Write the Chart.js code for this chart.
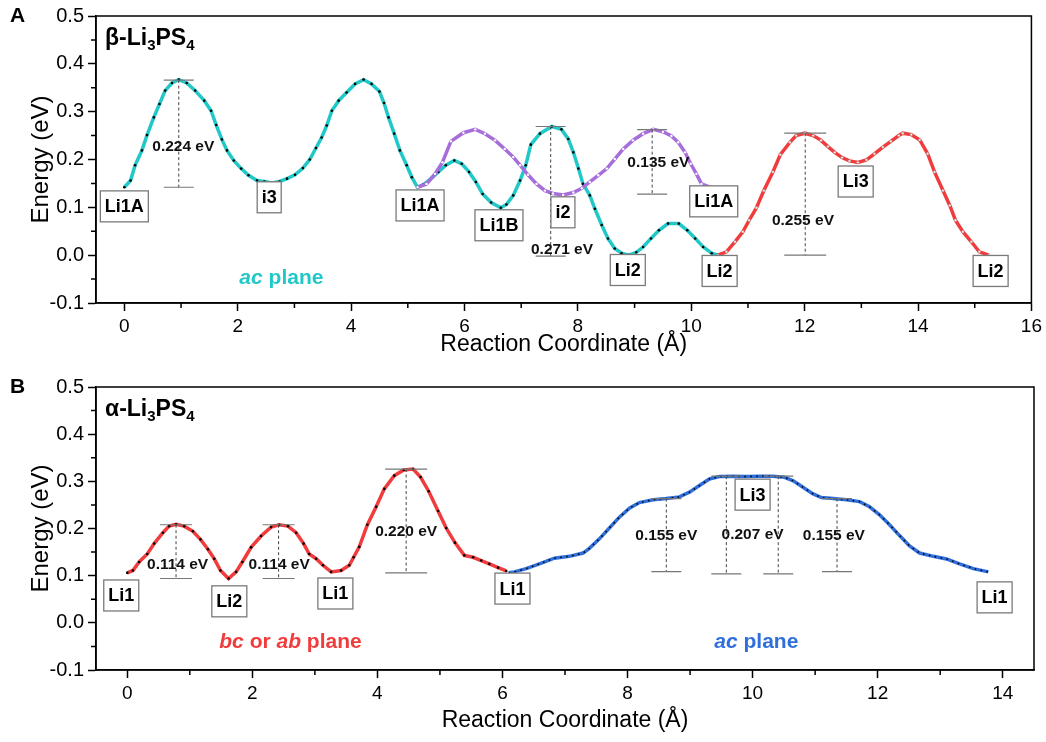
<!DOCTYPE html>
<html>
<head>
<meta charset="utf-8">
<script src="https://cdn.jsdelivr.net/npm/chart.js@4/dist/chart.umd.min.js"></script>
<style>
  html, body { margin: 0; padding: 0; background: #fff; }
  #wrap { position: relative; width: 1046px; height: 742px; }
  canvas { position: absolute; left: 0; }
</style>
</head>
<body>
<div id="wrap">
  <canvas id="chartA" width="1046" height="371" style="top:0"></canvas>
  <canvas id="chartB" width="1046" height="371" style="top:371px"></canvas>
</div>
<script>
// ---- beta-Li3PS4 (panel A) ----
const xTicksA = [0, 2, 4, 6, 8, 10, 12, 14, 16];
const yTicks = [-0.1, 0.0, 0.1, 0.2, 0.3, 0.4, 0.5];

const cyanXA = [0, 0.11, 0.19, 0.31, 0.40, 0.52, 0.62, 0.72, 0.84, 0.96, 1.10, 1.25, 1.41, 1.53, 1.62, 1.72, 1.81, 1.93, 2.06, 2.19, 2.34, 2.47, 2.60, 2.74, 2.87, 3.01, 3.15, 3.27, 3.38, 3.48, 3.57, 3.66, 3.78, 3.92, 4.07, 4.22, 4.36, 4.50, 4.58, 4.66, 4.76, 4.86, 4.98, 5.07, 5.17, 5.28, 5.39, 5.54, 5.67, 5.82, 5.95, 6.08, 6.20, 6.32, 6.47, 6.64, 6.74, 6.86, 6.98, 7.08, 7.17, 7.33, 7.54, 7.71, 7.83, 7.92, 8.01, 8.09, 8.21, 8.30, 8.42, 8.53, 8.65, 8.77, 8.90, 9.03, 9.15, 9.29, 9.43, 9.59, 9.78, 9.93, 10.07, 10.21, 10.36, 10.47];
const cyanYA = [0.142, 0.156, 0.188, 0.219, 0.251, 0.288, 0.316, 0.344, 0.360, 0.367, 0.360, 0.344, 0.323, 0.302, 0.272, 0.242, 0.219, 0.198, 0.181, 0.167, 0.156, 0.154, 0.151, 0.154, 0.160, 0.168, 0.182, 0.200, 0.224, 0.246, 0.271, 0.302, 0.323, 0.340, 0.358, 0.367, 0.358, 0.342, 0.318, 0.288, 0.254, 0.219, 0.188, 0.163, 0.142, 0.148, 0.158, 0.174, 0.188, 0.198, 0.191, 0.174, 0.153, 0.128, 0.110, 0.099, 0.106, 0.125, 0.156, 0.188, 0.231, 0.254, 0.269, 0.263, 0.243, 0.215, 0.181, 0.149, 0.125, 0.097, 0.063, 0.035, 0.014, 0.004, 0.000, 0.006, 0.017, 0.035, 0.052, 0.066, 0.066, 0.052, 0.035, 0.017, 0.004, 0.000];

const purpleXA = [5.17, 5.33, 5.48, 5.61, 5.76, 5.98, 6.19, 6.36, 6.54, 6.71, 6.86, 6.98, 7.12, 7.27, 7.42, 7.56, 7.74, 7.92, 8.07, 8.21, 8.36, 8.51, 8.65, 8.80, 8.97, 9.15, 9.33, 9.50, 9.65, 9.77, 9.89, 9.99, 10.09, 10.18, 10.33];
const purpleYA = [0.142, 0.149, 0.170, 0.194, 0.238, 0.256, 0.263, 0.254, 0.240, 0.222, 0.205, 0.188, 0.168, 0.149, 0.135, 0.129, 0.126, 0.131, 0.140, 0.153, 0.167, 0.181, 0.201, 0.222, 0.240, 0.254, 0.263, 0.258, 0.249, 0.236, 0.215, 0.191, 0.170, 0.149, 0.142];

const redXA = [10.47, 10.62, 10.77, 10.91, 11.02, 11.15, 11.28, 11.44, 11.57, 11.74, 11.85, 12.00, 12.15, 12.29, 12.41, 12.53, 12.66, 12.79, 12.94, 13.09, 13.23, 13.38, 13.52, 13.66, 13.73, 13.88, 14.03, 14.17, 14.29, 14.44, 14.56, 14.66, 14.79, 14.94, 15.08, 15.25];
const redYA = [0.000, 0.007, 0.028, 0.049, 0.073, 0.099, 0.135, 0.174, 0.210, 0.236, 0.250, 0.255, 0.250, 0.240, 0.227, 0.215, 0.204, 0.197, 0.194, 0.199, 0.212, 0.226, 0.238, 0.250, 0.255, 0.252, 0.241, 0.212, 0.174, 0.135, 0.104, 0.073, 0.049, 0.028, 0.007, 0.000];

// barriers: x of the dashed line, energy at the top cap, barrier height
const barXA = [0.96, 7.52, 9.31, 12.01];
const barTopA = [0.366, 0.269, 0.2625, 0.255];
const barValA = [0.224, 0.271, 0.135, 0.255];

const siteNamesA = ['Li1A', 'i3', 'Li1A', 'Li1B', 'i2', 'Li2', 'Li2', 'Li1A', 'Li3', 'Li2'];

// ---- alpha-Li3PS4 (panel B) ----
const xTicksB = [0, 2, 4, 6, 8, 10, 12, 14];

const redXB = [0, 0.09, 0.19, 0.32, 0.43, 0.57, 0.67, 0.78, 0.91, 1.05, 1.17, 1.29, 1.39, 1.49, 1.62, 1.74, 1.84, 1.98, 2.14, 2.30, 2.43, 2.57, 2.70, 2.82, 2.91, 3.02, 3.13, 3.26, 3.42, 3.55, 3.62, 3.71, 3.84, 3.98, 4.11, 4.27, 4.42, 4.57, 4.69, 4.82, 4.97, 5.10, 5.24, 5.39, 5.53, 5.66, 5.79, 5.93, 6.06];
const redYB = [0.106, 0.111, 0.129, 0.146, 0.168, 0.191, 0.205, 0.209, 0.205, 0.194, 0.177, 0.156, 0.136, 0.111, 0.094, 0.108, 0.129, 0.160, 0.184, 0.203, 0.208, 0.205, 0.191, 0.168, 0.146, 0.136, 0.122, 0.108, 0.111, 0.122, 0.139, 0.161, 0.208, 0.246, 0.284, 0.312, 0.324, 0.326, 0.309, 0.279, 0.237, 0.201, 0.170, 0.143, 0.139, 0.132, 0.125, 0.117, 0.110];

const blueXB = [6.10, 6.19, 6.38, 6.59, 6.83, 7.07, 7.29, 7.39, 7.55, 7.71, 7.87, 8.03, 8.19, 8.41, 8.62, 8.83, 8.99, 9.15, 9.31, 9.47, 9.68, 9.90, 10.11, 10.32, 10.51, 10.65, 10.80, 10.96, 11.10, 11.29, 11.50, 11.71, 11.87, 12.03, 12.19, 12.35, 12.51, 12.67, 12.89, 13.10, 13.31, 13.53, 13.77];
const blueYB = [0.106, 0.108, 0.115, 0.125, 0.137, 0.141, 0.148, 0.158, 0.178, 0.201, 0.224, 0.243, 0.255, 0.261, 0.2635, 0.267, 0.277, 0.291, 0.305, 0.310, 0.311, 0.310, 0.311, 0.311, 0.3085, 0.301, 0.288, 0.274, 0.2655, 0.2635, 0.261, 0.257, 0.246, 0.229, 0.208, 0.185, 0.163, 0.148, 0.141, 0.1355, 0.125, 0.115, 0.108];

const barXB = [0.78, 2.42, 4.46, 8.62, 9.58, 10.41, 11.35];
const barTopB = [0.208, 0.208, 0.326, 0.2635, 0.311, 0.311, 0.2635];
const barValB = [0.114, 0.114, 0.220, 0.155, 0.207, 0.207, 0.155];

const siteNamesB = ['Li1', 'Li2', 'Li1', 'Li1', 'Li3', 'Li1'];

// ---- colours / fonts ----
const CYAN = '#22c8c8';
const PURPLE = '#a66ddb';
const RED = '#f03c3c';
const BLUE = '#2f6fdc';
const FONT = "'Liberation Sans', Arial, sans-serif";

// ---- annotation layout (data units) ----
const layoutA = {
  letter: 'A',
  title: [['β-Li', 0], ['3', 1], ['PS', 0], ['4', 1]],
  bars: { x: barXA, top: barTopA, val: barValA, cap: [15, 15, 15, 21],
          lx: [1.04, 7.72, 9.42, 11.97], ly: [0.227, 0.012, 0.193, 0.073], show: [1, 1, 1, 1] },
  sites: { text: siteNamesA,
           x: [0, 2.555, 5.216, 6.608, 7.736, 8.88, 10.50, 10.396, 12.90, 15.28],
           y: [0.102, 0.121, 0.104, 0.0625, 0.0896, -0.031, -0.033, 0.1125, 0.154, -0.033] },
  planes: [ { runs: [['ac', 'italic bold'], [' plane', 'bold']], color: CYAN, x: 2.77, y: -0.061 } ]
};

const layoutB = {
  letter: 'B',
  title: [['α-Li', 0], ['3', 1], ['PS', 0], ['4', 1]],
  bars: { x: barXB, top: barTopB, val: barValB, cap: [16, 16, 21, 15, 15, 15, 15],
          lx: [0.805, 2.43, 4.46, 8.62, 10.0, 0, 11.30], ly: [0.124, 0.124, 0.193, 0.185, 0.187, 0, 0.185],
          show: [1, 1, 1, 1, 1, 0, 1] },
  sites: { text: siteNamesB,
           x: [-0.096, 1.632, 3.328, 6.16, 10.0, 13.87],
           y: [0.058, 0.0456, 0.0622, 0.0726, 0.2718, 0.054] },
  planes: [
    { runs: [['bc', 'italic bold'], [' or ', 'bold'], ['ab', 'italic bold'], [' plane', 'bold']], color: RED, x: 2.61, y: -0.053 },
    { runs: [['ac', 'italic bold'], [' plane', 'bold']], color: BLUE, x: 10.06, y: -0.053 }
  ]
};

function pts(xs, ys) {
  return xs.map((x, i) => ({ x: x, y: ys[i] }));
}

function drawRuns(ctx, runs, x, y, size, align) {
  let w = 0;
  runs.forEach(r => { ctx.font = r[1] + ' ' + size + 'px ' + FONT; w += ctx.measureText(r[0]).width; });
  let cx = align === 'center' ? x - w / 2 : x;
  runs.forEach(r => {
    ctx.font = r[1] + ' ' + size + 'px ' + FONT;
    ctx.fillText(r[0], cx, y);
    cx += ctx.measureText(r[0]).width;
  });
}

function decorPlugin(lay) {
  return {
    id: 'decor',
    afterDraw(chart) {
      const ctx = chart.ctx;
      const a = chart.chartArea;
      const xs = chart.scales.x, ys = chart.scales.y;
      ctx.save();

      // frame
      ctx.strokeStyle = '#000';
      ctx.lineWidth = 1.5;
      ctx.strokeRect(a.left, a.top, a.right - a.left, a.bottom - a.top);

      // minor ticks halfway between the labelled ones
      ctx.lineWidth = 1.5;
      ctx.beginPath();
      const xt = xs.ticks.map(t => t.value);
      for (let i = 0; i < xt.length - 1; i++) {
        const px = xs.getPixelForValue((xt[i] + xt[i + 1]) / 2);
        ctx.moveTo(px, a.bottom); ctx.lineTo(px, a.bottom + 5);
      }
      const yt = ys.ticks.map(t => t.value);
      for (let i = 0; i < yt.length - 1; i++) {
        const py = ys.getPixelForValue((yt[i] + yt[i + 1]) / 2);
        ctx.moveTo(a.left, py); ctx.lineTo(a.left - 5, py);
      }
      ctx.stroke();

      // barrier markers
      const b = lay.bars;
      b.x.forEach((x, i) => {
        const px = xs.getPixelForValue(x);
        const pt = ys.getPixelForValue(b.top[i]);
        const pb = ys.getPixelForValue(b.top[i] - b.val[i]);
        ctx.strokeStyle = '#444';
        ctx.lineWidth = 1;
        ctx.setLineDash([3, 2.5]);
        ctx.beginPath(); ctx.moveTo(px, pt); ctx.lineTo(px, pb); ctx.stroke();
        ctx.setLineDash([]);
        ctx.strokeStyle = '#777';
        ctx.lineWidth = 1.2;
        ctx.beginPath();
        ctx.moveTo(px - b.cap[i], pt); ctx.lineTo(px + b.cap[i], pt);
        ctx.moveTo(px - b.cap[i], pb); ctx.lineTo(px + b.cap[i], pb);
        ctx.stroke();
      });
      ctx.fillStyle = '#111';
      ctx.textAlign = 'center';
      ctx.textBaseline = 'middle';
      ctx.font = 'bold 15.5px ' + FONT;
      b.x.forEach((x, i) => {
        if (!b.show[i]) return;
        ctx.fillText(b.val[i].toFixed(3) + ' eV', xs.getPixelForValue(b.lx[i]), ys.getPixelForValue(b.ly[i]));
      });

      // boxed site names
      const s = lay.sites;
      ctx.font = 'bold 18px ' + FONT;
      s.text.forEach((t, i) => {
        const cx = xs.getPixelForValue(s.x[i]);
        const cy = ys.getPixelForValue(s.y[i]);
        const w = ctx.measureText(t).width + 9;
        const h = 31;
        ctx.fillStyle = '#fff';
        ctx.fillRect(cx - w / 2, cy - h / 2, w, h);
        ctx.strokeStyle = '#7a7a7a';
        ctx.lineWidth = 1.3;
        ctx.strokeRect(cx - w / 2, cy - h / 2, w, h);
        ctx.fillStyle = '#000';
        ctx.fillText(t, cx, cy + 1);
      });

      // plane captions
      ctx.textAlign = 'left';
      ctx.textBaseline = 'alphabetic';
      lay.planes.forEach(p => {
        ctx.fillStyle = p.color;
        drawRuns(ctx, p.runs, xs.getPixelForValue(p.x), ys.getPixelForValue(p.y), 21, 'center');
      });

      // phase name with subscripts
      ctx.fillStyle = '#000';
      let tx = a.left + 9;
      lay.title.forEach(r => {
        ctx.font = 'bold ' + (r[1] ? 15 : 23) + 'px ' + FONT;
        ctx.fillText(r[0], tx, a.top + 29 + (r[1] ? 5 : 0));
        tx += ctx.measureText(r[0]).width;
      });

      // panel letter
      ctx.font = 'bold 21px ' + FONT;
      ctx.fillText(lay.letter, 10, 22);
      ctx.restore();
    }
  };
}

function makeScales(xMin, xMax, xTicks, xHeight, titlePad) {
  const grid = { drawOnChartArea: false, drawTicks: true, tickLength: 8, color: '#000', tickWidth: 1.5 };
  const border = { display: true, color: '#000', width: 1.5 };
  return {
    x: {
      type: 'linear', min: xMin, max: xMax,
      afterBuildTicks: sc => { sc.ticks = xTicks.map(v => ({ value: v })); },
      afterFit: sc => { sc.height = xHeight; },
      grid: grid, border: border,
      ticks: { color: '#000', font: { family: FONT, size: 19 }, padding: 4, maxRotation: 0, autoSkip: false,
               callback: v => String(v) },
      title: { display: true, text: 'Reaction Coordinate (Å)', color: '#000',
               font: { family: FONT, size: 23 }, padding: { top: 0, bottom: titlePad } }
    },
    y: {
      type: 'linear', min: -0.1, max: 0.5,
      afterBuildTicks: sc => { sc.ticks = yTicks.map(v => ({ value: v })); },
      afterFit: sc => { sc.width = 96; },
      grid: grid, border: border,
      ticks: { color: '#000', font: { family: FONT, size: 20 }, padding: 4, callback: v => v.toFixed(1) },
      title: { display: true, text: 'Energy (eV)', color: '#000',
               font: { family: FONT, size: 24 }, padding: { top: 27, bottom: 0 } }
    }
  };
}

const common = {
  responsive: false,
  animation: false,
  events: [],
  devicePixelRatio: 1,
  plugins: { legend: { display: false }, tooltip: { enabled: false } }
};

new Chart(document.getElementById('chartA'), {
  type: 'line',
  data: {
    datasets: [
      { data: pts(purpleXA, purpleYA), borderColor: PURPLE, borderWidth: 3.5, tension: 0,
        pointRadius: 1.2, pointBackgroundColor: '#fff', pointBorderWidth: 0 },
      { data: pts(redXA, redYA), borderColor: RED, borderWidth: 3.5, tension: 0,
        pointRadius: 1.2, pointBackgroundColor: '#eee', pointBorderColor: '#999', pointBorderWidth: 0.4 },
      { data: pts(cyanXA, cyanYA), borderColor: CYAN, borderWidth: 3.5, tension: 0,
        pointRadius: 1.3, pointBackgroundColor: '#000', pointBorderWidth: 0 }
    ]
  },
  options: Object.assign({}, common, {
    layout: { padding: { top: 15, right: 11, left: 0, bottom: 0 } },
    scales: makeScales(-0.5, 16, xTicksA, 68, 13)
  }),
  plugins: [decorPlugin(layoutA)]
});

new Chart(document.getElementById('chartB'), {
  type: 'line',
  data: {
    datasets: [
      // black dots running along the blue path
      { data: pts(blueXB, blueYB), borderColor: '#000', borderWidth: 1.6, borderDash: [1.5, 4.5],
        tension: 0, pointRadius: 0 },
      { data: pts(blueXB, blueYB), borderColor: BLUE, borderWidth: 3.5, tension: 0, pointRadius: 0 },
      { data: pts(redXB, redYB), borderColor: RED, borderWidth: 3.5, tension: 0,
        pointRadius: 1.3, pointBackgroundColor: '#000', pointBorderWidth: 0 }
    ]
  },
  options: Object.assign({}, common, {
    layout: { padding: { top: 10, right: 12, left: 0, bottom: 0 } },
    scales: makeScales(-0.5, 14.5, xTicksB, 72, 8)
  }),
  plugins: [decorPlugin(layoutB)]
});
</script>
</body>
</html>
